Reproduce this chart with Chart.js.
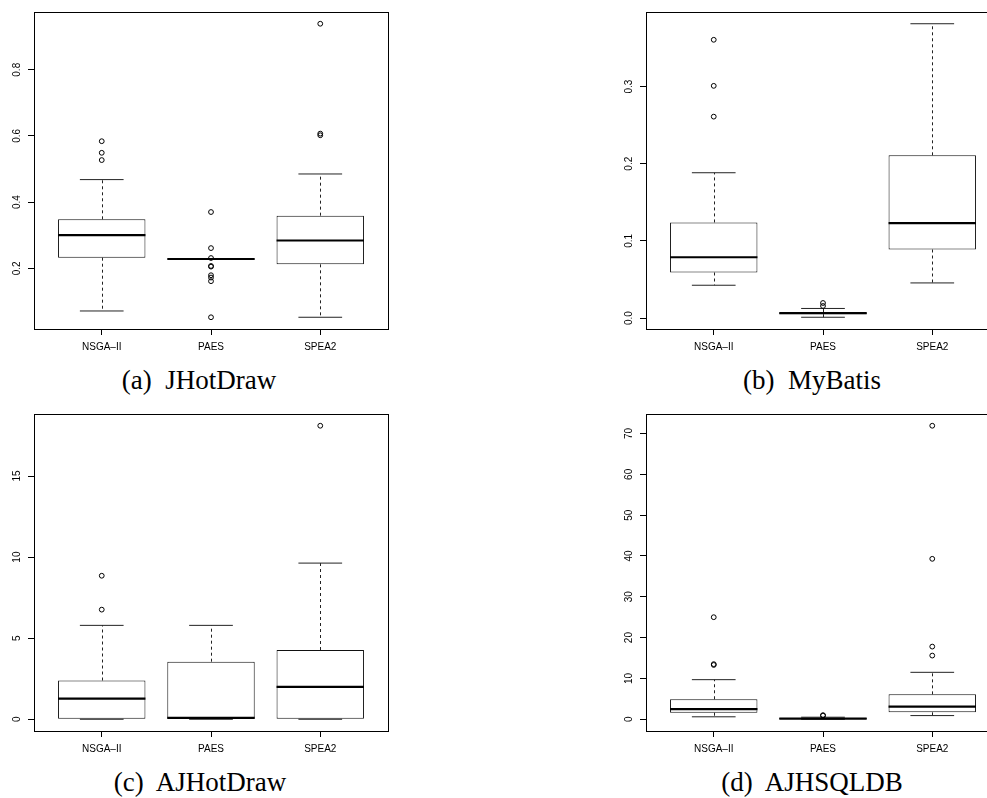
<!DOCTYPE html>
<html>
<head>
<meta charset="utf-8">
<script src="https://cdn.jsdelivr.net/npm/chart.js@4.4.0/dist/chart.umd.min.js"></script>
<style>
  html, body { margin: 0; padding: 0; background: #fff; }
  body { width: 987px; height: 798px; overflow: hidden; position: relative; }
  .panel { position: absolute; width: 400px; height: 360px; }
  .caption {
    position: absolute; font-family: "Liberation Serif", serif; font-size: 27px;
    line-height: 1; color: #000; white-space: nowrap; transform: translateX(-50%);
  }
</style>
</head>
<body>
<div class="panel" style="left:0;top:0"><canvas id="chartA" width="400" height="360"></canvas></div>
<div class="panel" style="left:612px;top:0"><canvas id="chartB" width="400" height="360"></canvas></div>
<div class="panel" style="left:0;top:402px"><canvas id="chartC" width="400" height="360"></canvas></div>
<div class="panel" style="left:612px;top:402px"><canvas id="chartD" width="400" height="360"></canvas></div>
<div class="caption" style="left:199px;top:367px">(a)&nbsp; JHotDraw</div>
<div class="caption" style="left:812px;top:367px">(b)&nbsp; MyBatis</div>
<div class="caption" style="left:200px;top:769px">(c)&nbsp; AJHotDraw</div>
<div class="caption" style="left:812px;top:769px">(d)&nbsp; AJHSQLDB</div>

<script>
var algorithms = ['NSGA\u2013II', 'PAES', 'SPEA2'];

// (a) JHotDraw
var jhdLow = [0.071, 0.228, 0.052];
var jhdQ1 = [0.232, 0.227, 0.212];
var jhdMedian = [0.300, 0.228, 0.284];
var jhdQ3 = [0.348, 0.229, 0.359];
var jhdHigh = [0.468, 0.229, 0.485];
var jhdOutliers = [[0.584, 0.549, 0.527], [0.370, 0.261, 0.231, 0.207, 0.205, 0.179, 0.172, 0.161, 0.052], [0.939, 0.607, 0.602]];
var jhdTicks = ['0.2', '0.4', '0.6', '0.8'];

// (b) MyBatis
var mbLow = [0.0425, 0.001, 0.0455];
var mbQ1 = [0.059, 0.005, 0.0888];
var mbMedian = [0.0788, 0.0062, 0.123];
var mbQ3 = [0.1239, 0.0078, 0.2109];
var mbHigh = [0.1883, 0.0124, 0.3814];
var mbOutliers = [[0.3606, 0.3009, 0.261], [0.0195, 0.0156], []];
var mbTicks = ['0.0', '0.1', '0.2', '0.3'];

// (c) AJHotDraw
var ajhdLow = [0, 0, 0];
var ajhdQ1 = [0, 0, 0];
var ajhdMedian = [1.27, 0.08, 2.0];
var ajhdQ3 = [2.39, 3.55, 4.27];
var ajhdHigh = [5.79, 5.79, 9.63];
var ajhdOutliers = [[8.85, 6.76], [], [18.1]];
var ajhdTicks = ['0', '5', '10', '15'];

// (d) AJHSQLDB
var ajsLow = [0.6, 0, 0.9];
var ajsQ1 = [1.6, 0.05, 1.7];
var ajsMedian = [2.5, 0.15, 3.1];
var ajsQ3 = [4.9, 0.3, 6.1];
var ajsHigh = [9.7, 0.5, 11.5];
var ajsOutliers = [[25.0, 13.5, 13.3], [1.0, 0.9], [71.9, 39.3, 17.8, 15.6]];
var ajsTicks = ['0', '10', '20', '30', '40', '50', '60', '70'];

var tickFont = '"Liberation Sans", Arial, sans-serif';

function makePanel(id, low, q1, median, q3, high, outliers, tickLabels) {
    // y range like R: data range stretched by 4% each side
    var all = low.concat(high);
    outliers.forEach(function (o) { all = all.concat(o); });
    var lo = Math.min.apply(null, all), hi = Math.max.apply(null, all);
    var pad = (hi - lo) * 0.04;

    var points = [];
    outliers.forEach(function (o, i) {
        o.forEach(function (v) { points.push({ x: i + 1, y: v }); });
    });
    var boxes = q1.map(function (v, i) { return { x: i + 1, y: [v, q3[i]] }; });

    function hline(ctx, x1, x2, y) {
        ctx.beginPath(); ctx.moveTo(x1, y); ctx.lineTo(x2, y); ctx.stroke();
    }

    var boxplot = {
        id: 'boxplot',
        beforeDatasetsDraw: function (chart) {
            var ctx = chart.ctx, x = chart.scales.x, y = chart.scales.y;
            ctx.save();
            ctx.strokeStyle = '#222';
            ctx.lineWidth = 1;
            for (var i = 0; i < low.length; i++) {
                var cx = Math.round(x.getPixelForValue(i + 1)) + 0.5;
                var x1 = x.getPixelForValue(i + 0.8), x2 = x.getPixelForValue(i + 1.2);
                ctx.setLineDash([3, 3]);
                ctx.beginPath();
                ctx.moveTo(cx, y.getPixelForValue(q3[i]));
                ctx.lineTo(cx, y.getPixelForValue(high[i]));
                ctx.moveTo(cx, y.getPixelForValue(q1[i]));
                ctx.lineTo(cx, y.getPixelForValue(low[i]));
                ctx.stroke();
                ctx.setLineDash([]);
                hline(ctx, x1, x2, y.getPixelForValue(high[i]));
                hline(ctx, x1, x2, y.getPixelForValue(low[i]));
            }
            ctx.restore();
        },
        afterDatasetDraw: function (chart, args) {
            if (args.meta.type !== 'bar') return;
            var ctx = chart.ctx, x = chart.scales.x, y = chart.scales.y;
            ctx.save();
            ctx.strokeStyle = '#000';
            ctx.lineWidth = 2.2;
            for (var i = 0; i < median.length; i++) {
                hline(ctx, x.getPixelForValue(i + 0.6), x.getPixelForValue(i + 1.4), y.getPixelForValue(median[i]));
            }
            ctx.restore();
        },
        afterDraw: function (chart) {
            var ctx = chart.ctx, a = chart.chartArea, y = chart.scales.y;
            ctx.save();
            ctx.strokeStyle = '#000';
            ctx.lineWidth = 1;
            ctx.strokeRect(Math.round(a.left) + 0.5, Math.round(a.top) + 0.5,
                Math.round(a.right - a.left), Math.round(a.bottom - a.top));
            ctx.fillStyle = '#000';
            ctx.font = '10px ' + tickFont;
            ctx.textAlign = 'center';
            ctx.textBaseline = 'alphabetic';
            y.ticks.forEach(function (t) {
                ctx.save();
                ctx.translate(a.left - 14, y.getPixelForValue(t.value));
                ctx.rotate(-Math.PI / 2);
                ctx.fillText(t.label, 0, 0);
                ctx.restore();
            });
            ctx.restore();
        }
    };

    return new Chart(document.getElementById(id), {
        type: 'bar',
        data: {
            datasets: [{
                type: 'scatter',
                data: points,
                pointRadius: 2.4,
                pointBorderWidth: 1,
                pointBorderColor: '#000',
                pointBackgroundColor: 'rgba(0,0,0,0)',
                showLine: false
            }, {
                type: 'bar',
                data: boxes,
                backgroundColor: '#fff',
                borderColor: '#111',
                borderWidth: 1,
                borderSkipped: false,
                barPercentage: 1,
                categoryPercentage: 0.8
            }]
        },
        options: {
            responsive: false,
            animation: false,
            layout: { padding: { top: 12, right: 12, left: 0, bottom: 0 } },
            plugins: { legend: { display: false }, tooltip: { enabled: false } },
            scales: {
                x: {
                    type: 'linear',
                    offset: false,
                    min: 1 - 0.5 - 0.12,
                    max: 3 + 0.5 + 0.12,
                    afterBuildTicks: function (s) {
                        s.ticks = algorithms.map(function (n, i) { return { value: i + 1 }; });
                    },
                    afterFit: function (s) { s.height = 31; },
                    border: { display: false },
                    grid: { offset: false, drawOnChartArea: false, drawTicks: true, tickLength: 6, color: '#000' },
                    ticks: {
                        autoSkip: false, maxRotation: 0, padding: 6, color: '#000',
                        font: { family: tickFont, size: 10 },
                        callback: function (v) { return algorithms[v - 1]; }
                    }
                },
                y: {
                    type: 'linear',
                    min: lo - pad,
                    max: hi + pad,
                    afterBuildTicks: function (s) {
                        s.ticks = tickLabels.map(function (l) { return { value: Number(l) }; });
                    },
                    afterFit: function (s) { s.width = 34; },
                    border: { display: false },
                    grid: { drawOnChartArea: false, drawTicks: true, tickLength: 6, color: '#000' },
                    ticks: {
                        display: false,
                        callback: function (v, i) { return tickLabels[i]; }
                    }
                }
            }
        },
        plugins: [boxplot]
    });
}

makePanel('chartA', jhdLow, jhdQ1, jhdMedian, jhdQ3, jhdHigh, jhdOutliers, jhdTicks);
makePanel('chartB', mbLow, mbQ1, mbMedian, mbQ3, mbHigh, mbOutliers, mbTicks);
makePanel('chartC', ajhdLow, ajhdQ1, ajhdMedian, ajhdQ3, ajhdHigh, ajhdOutliers, ajhdTicks);
makePanel('chartD', ajsLow, ajsQ1, ajsMedian, ajsQ3, ajsHigh, ajsOutliers, ajsTicks);
</script>
</body>
</html>
